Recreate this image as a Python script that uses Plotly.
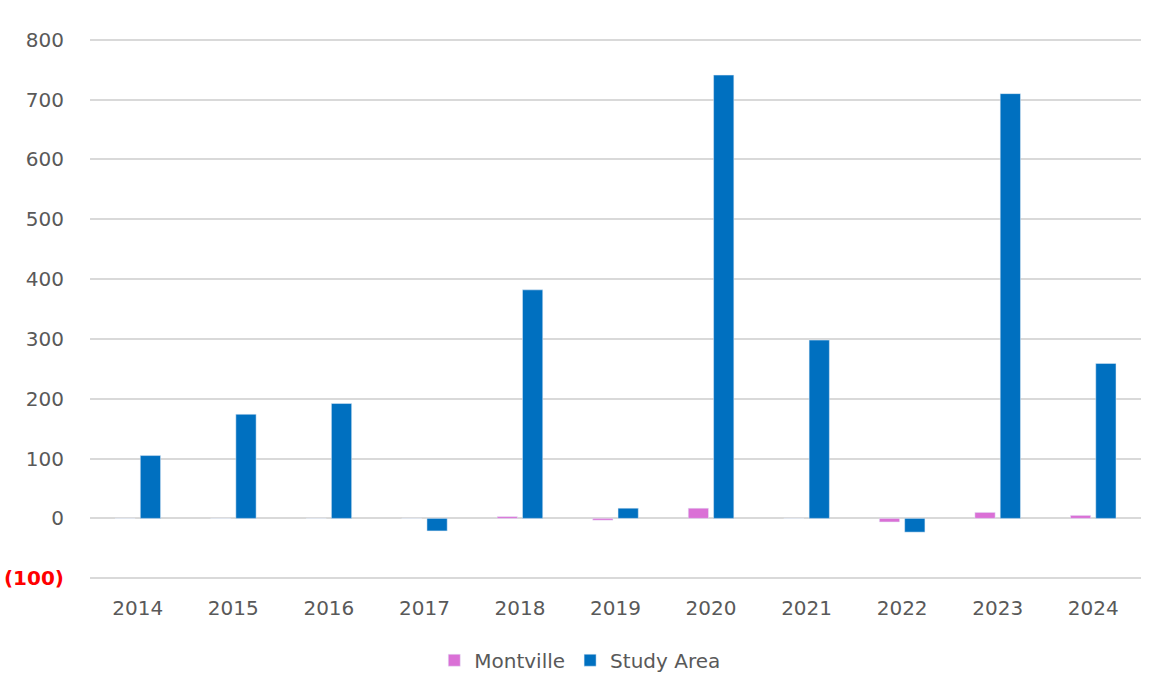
import plotly.graph_objects as go

years = ["2014", "2015", "2016", "2017", "2018", "2019", "2020", "2021", "2022", "2023", "2024"]
montville = [0, 0, 0, 0, 3, -3, 17, 0, -6, 10, 5]
study_area = [105, 174, 192, -21, 382, 17, 741, 298, -23, 710, 259]

tick_vals = [-100, 0, 100, 200, 300, 400, 500, 600, 700, 800]
tick_text = ["<span style='color:#FF0000'><b>(100)</b></span>", "0", "100", "200", "300",
             "400", "500", "600", "700", "800"]

fig = go.Figure()
fig.add_trace(go.Bar(name="Montville", x=years, y=montville, marker_color="#DA70D6"))
fig.add_trace(go.Bar(name="Study Area", x=years, y=study_area, marker_color="#0070C0"))

fig.update_layout(
    width=1158, height=696,
    margin=dict(l=90, r=17, t=38, b=116),
    plot_bgcolor="white", paper_bgcolor="white",
    barmode="group", bargap=0.47, bargroupgap=0.2,
    font=dict(family="DejaVu Sans, Liberation Sans, Arial", size=20, color="#595959"),
    legend=dict(orientation="h", x=0.466, xanchor="center", y=-0.148, yanchor="middle",
                font=dict(size=20, color="#595959"), itemwidth=30, traceorder="normal"),
)
fig.update_xaxes(showgrid=False, showline=False, ticks="", ticklabelstandoff=14,
                 tickfont=dict(size=20), automargin=False)
# pad the range a little so the gridlines at -100 and 800 are kept
fig.update_yaxes(range=[-103, 803], tickvals=tick_vals, ticktext=tick_text,
                 showgrid=True, gridcolor="#D9D9D9", gridwidth=2,
                 zeroline=True, zerolinecolor="#D9D9D9", zerolinewidth=2,
                 ticks="", ticklabelstandoff=25, tickfont=dict(size=20), automargin=False)

fig.write_html("out.html")
